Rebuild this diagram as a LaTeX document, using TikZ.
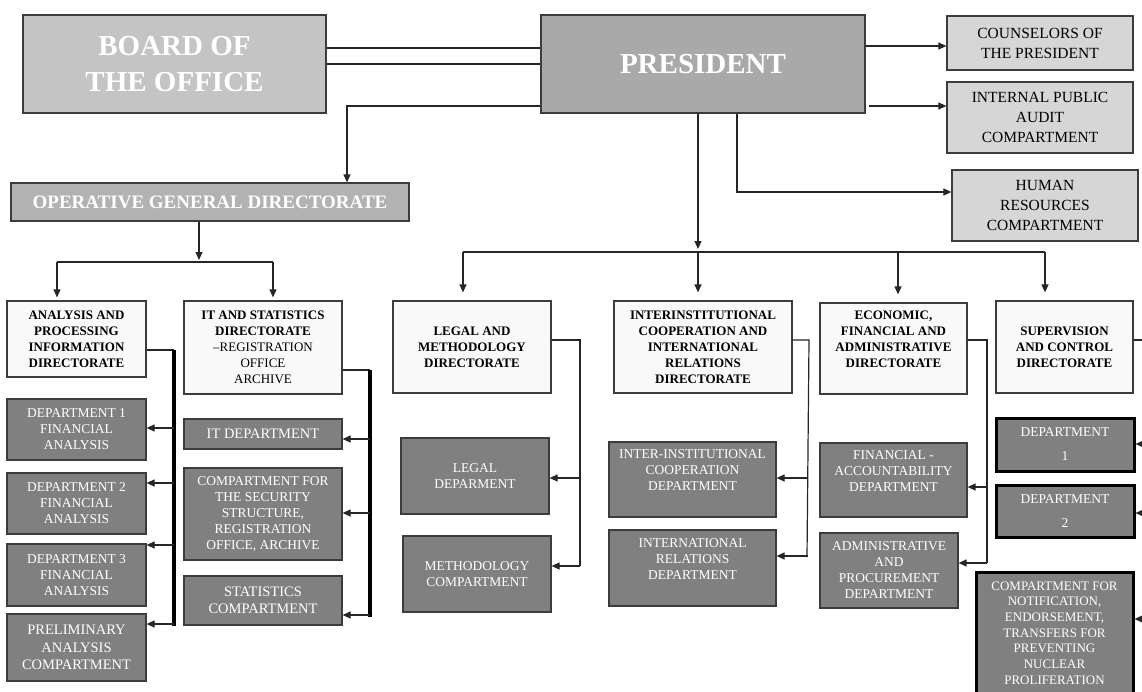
\documentclass[tikz,border=0pt]{standalone}
\usepackage{fontspec}
\setmainfont{Liberation Serif}
\usepackage{tikz}
\usetikzlibrary{arrows.meta}

\definecolor{boardgray}{RGB}{196,196,196}
\definecolor{presgray}{RGB}{169,169,169}
\definecolor{ogdgray}{RGB}{178,178,178}
\definecolor{sidegray}{RGB}{214,214,214}
\definecolor{dirwhite}{RGB}{249,249,249}
\definecolor{deptgray}{RGB}{128,128,128}
\definecolor{edgegray}{RGB}{60,60,60}

\tikzset{
  box/.style={draw=edgegray, line width=1.2pt, inner sep=1pt, align=center},
  boxsize/.style 2 args={minimum width=#1, minimum height=#2},
  headbox/.style={box, text=white, font=\fontsize{29}{36}\selectfont\bfseries},
  sidebox/.style={box, fill=sidegray, font=\fontsize{15.5}{20}\selectfont},
  dirbox/.style={box, fill=dirwhite, font=\fontsize{13}{16}\selectfont\bfseries},
  deptbox/.style={box, fill=deptgray, text=white, font=\fontsize{13.5}{16}\selectfont},
  bigtext/.style={font=\fontsize{14.5}{17.5}\selectfont},
  supbox/.style={deptbox, draw=black, line width=3pt},
  link/.style={line width=1.2pt, draw=black!85},
  arr/.style={link, -{Triangle[length=8pt,width=7pt]}},
  spine/.style={line width=4pt, draw=black}
}

\begin{document}
\begin{tikzpicture}[x=1pt, y=-1pt]
    \useasboundingbox (0,0) rectangle (1142,691);
    \clip (0,0) rectangle (1142,691); % the right column runs off the page

    % top level
    \node[headbox, fill=boardgray, boxsize={303}{98}] (board) at (174.5,64) {BOARD OF\\THE OFFICE};
    \node[headbox, fill=presgray, boxsize={324}{98}] (pres) at (703,64) {PRESIDENT};
    \node[box, fill=ogdgray, text=white, font=\fontsize{19}{22}\selectfont\bfseries, boxsize={398}{38}] (ogd) at (210,202) {OPERATIVE GENERAL DIRECTORATE};
    \node[sidebox, boxsize={186}{54}] (couns) at (1040,43) {COUNSELORS OF\\THE PRESIDENT};
    \node[sidebox, boxsize={186}{71}] (audit) at (1040,117.5) {INTERNAL PUBLIC\\AUDIT\\COMPARTMENT};
    \node[sidebox, boxsize={186}{71}] (hr) at (1045,205.5) {HUMAN\\RESOURCES\\COMPARTMENT};

    % directorates
    \node[dirbox, boxsize={139}{76}] (anl) at (76.5,339) {ANALYSIS AND\\PROCESSING\\INFORMATION\\DIRECTORATE};
    \node[dirbox, boxsize={158}{93}] (its) at (263,347.5) {IT AND STATISTICS\\DIRECTORATE\\\mdseries –REGISTRATION\\\mdseries OFFICE\\\mdseries ARCHIVE};
    \node[dirbox, boxsize={158}{92}] (leg) at (472,347) {LEGAL AND\\METHODOLOGY\\DIRECTORATE};
    \node[dirbox, boxsize={178}{92}] (intr) at (703,347) {INTERINSTITUTIONAL\\COOPERATION AND\\INTERNATIONAL\\RELATIONS\\DIRECTORATE};
    \node[dirbox, boxsize={147}{91}, text depth=18pt] (eco) at (893.5,348.5) {ECONOMIC,\\FINANCIAL AND\\ADMINISTRATIVE\\DIRECTORATE};
    \node[dirbox, boxsize={137}{92}] (sup) at (1064.5,347) {SUPERVISION\\AND CONTROL\\DIRECTORATE};

    % departments and compartments
    \node[deptbox, boxsize={139}{61}] (d1) at (76.5,429.5) {DEPARTMENT 1\\FINANCIAL\\ANALYSIS};
    \node[deptbox, boxsize={139}{61}] (d2) at (76.5,503.5) {DEPARTMENT 2\\FINANCIAL\\ANALYSIS};
    \node[deptbox, boxsize={139}{62}] (d3) at (76.5,575) {DEPARTMENT 3\\FINANCIAL\\ANALYSIS};
    \node[deptbox, bigtext, boxsize={139}{67}] (pre) at (76.5,647.5) {PRELIMINARY\\ANALYSIS\\COMPARTMENT};
    \node[deptbox, bigtext, boxsize={158}{30}] (itd) at (263,434) {IT DEPARTMENT};
    \node[deptbox, boxsize={158}{92}] (sec) at (263,514) {COMPARTMENT FOR\\THE SECURITY\\STRUCTURE,\\REGISTRATION\\OFFICE, ARCHIVE};
    \node[deptbox, bigtext, boxsize={158}{49}] (sta) at (263,600.5) {STATISTICS\\COMPARTMENT};
    \node[deptbox, boxsize={148}{76}] (legd) at (475,476) {LEGAL\\DEPARMENT};
    \node[deptbox, boxsize={148}{76}] (meth) at (477,574) {METHODOLOGY\\COMPARTMENT};
    \node[deptbox, boxsize={167}{75}, text depth=18pt] (icd) at (692.5,479.5) {INTER-INSTITUTIONAL\\COOPERATION\\DEPARTMENT};
    \node[deptbox, boxsize={167}{76}, text depth=18pt] (ird) at (692.5,568) {INTERNATIONAL\\RELATIONS\\DEPARTMENT};
    \node[deptbox, boxsize={147}{74}, text depth=18pt] (fad) at (893.5,480) {FINANCIAL -\\ACCOUNTABILITY\\DEPARTMENT};
    \node[deptbox, boxsize={138}{75}] (apd) at (889,570.5) {ADMINISTRATIVE\\AND\\PROCUREMENT\\DEPARTMENT};
    \node[supbox, boxsize={138}{53}] (sd1) at (1065,444.5) {DEPARTMENT\\[8pt]1};
    \node[supbox, boxsize={138}{52}] (sd2) at (1065,511) {DEPARTMENT\\[8pt]2};
    \node[supbox, font=\fontsize{13}{15.7}\selectfont, boxsize={157}{122}] (nuc) at (1054.5,633) {COMPARTMENT FOR\\NOTIFICATION,\\ENDORSEMENT,\\TRANSFERS FOR\\PREVENTING\\NUCLEAR\\PROLIFERATION};

    % links from the top
    \draw[link] (board.east) -- (pres.west);
    \draw[link] ([yshift=16pt]board.east) -- ([yshift=16pt]pres.west);
    \draw[arr] (pres.west |- 0,106) -| (ogd.north -| 347,0);
    \draw[arr] (pres.east |- 0,46) -- (couns.west |- 0,46);
    \coordinate (audfrom) at (869,106);
    \draw[arr] (audfrom) -- (audit.west |- audfrom);
    \draw[arr] (pres.south -| 737,0) |- (hr.west |- 0,192);

    % president bus
    \coordinate (bus) at (698,252);
    \draw[arr] (pres.south -| bus) -- ([yshift=3pt]bus);
    \draw[link] (bus -| 463,0) -- (bus -| 1045,0);
    \foreach \n/\x in {leg/463, intr/698, eco/898, sup/1045}{
        \draw[arr, shorten >=8pt] (bus -| \x,0) -- (\n.north -| \x,0);
    }

    % operative bus
    \coordinate (obus) at (199,262);
    \draw[arr] (ogd.south -| obus) -- ([yshift=2pt]obus);
    \draw[link] (obus -| 57,0) -- (obus -| 273,0);
    \foreach \n/\x in {anl/57, its/273}{
        \draw[arr, shorten >=3pt] (obus -| \x,0) -- (\n.north -| \x,0);
    }

    % analysis column
    \coordinate (anlsp) at (174,350);
    \draw[link] (anl.east |- anlsp) -- (anlsp);
    \draw[spine] (anlsp) -- (174,626);
    \foreach \n/\y in {d1/428, d2/483, d3/545, pre/624}{
        \draw[arr] (anlsp |- 0,\y) -- (\n.east |- 0,\y);
    }

    % it column
    \coordinate (itsp) at (370,370);
    \draw[link] (its.east |- itsp) -- (itsp);
    \draw[spine] (itsp) -- (370,617);
    \foreach \n/\y in {itd/439, sec/513, sta/615}{
        \draw[arr] (itsp |- 0,\y) -- (\n.east |- 0,\y);
    }

    % legal column
    \coordinate (legsp) at (580,340);
    \draw[link] (leg.east |- legsp) -- (legsp) -- (580,566);
    \foreach \n/\y in {legd/478, meth/566}{
        \draw[arr] (legsp |- 0,\y) -- (\n.east |- 0,\y);
    }

    % cooperation column
    \coordinate (intsp) at (809,340);
    \draw[link] (intr.east |- intsp) -- (intsp) -- (807,557);
    \foreach \n/\y in {icd/478, ird/556}{
        \draw[arr] (808,\y) -- (\n.east |- 0,\y);
    }

    % economic column
    \coordinate (ecosp) at (987,340);
    \draw[link] (eco.east |- ecosp) -- (ecosp) -- (987,563);
    \foreach \n/\y in {fad/487, apd/563}{
        \draw[arr] (ecosp |- 0,\y) -- (\n.east |- 0,\y);
    }

    % supervision column, spine is off the page
    \coordinate (supsp) at (1152,340);
    \draw[link] (sup.east |- supsp) -- (supsp) -- (1152,619);
    \foreach \n/\y in {sd1/444, sd2/513, nuc/619}{
        \draw[arr] (supsp |- 0,\y) -- (\n.east |- 0,\y);
    }
\end{tikzpicture}
\end{document}
